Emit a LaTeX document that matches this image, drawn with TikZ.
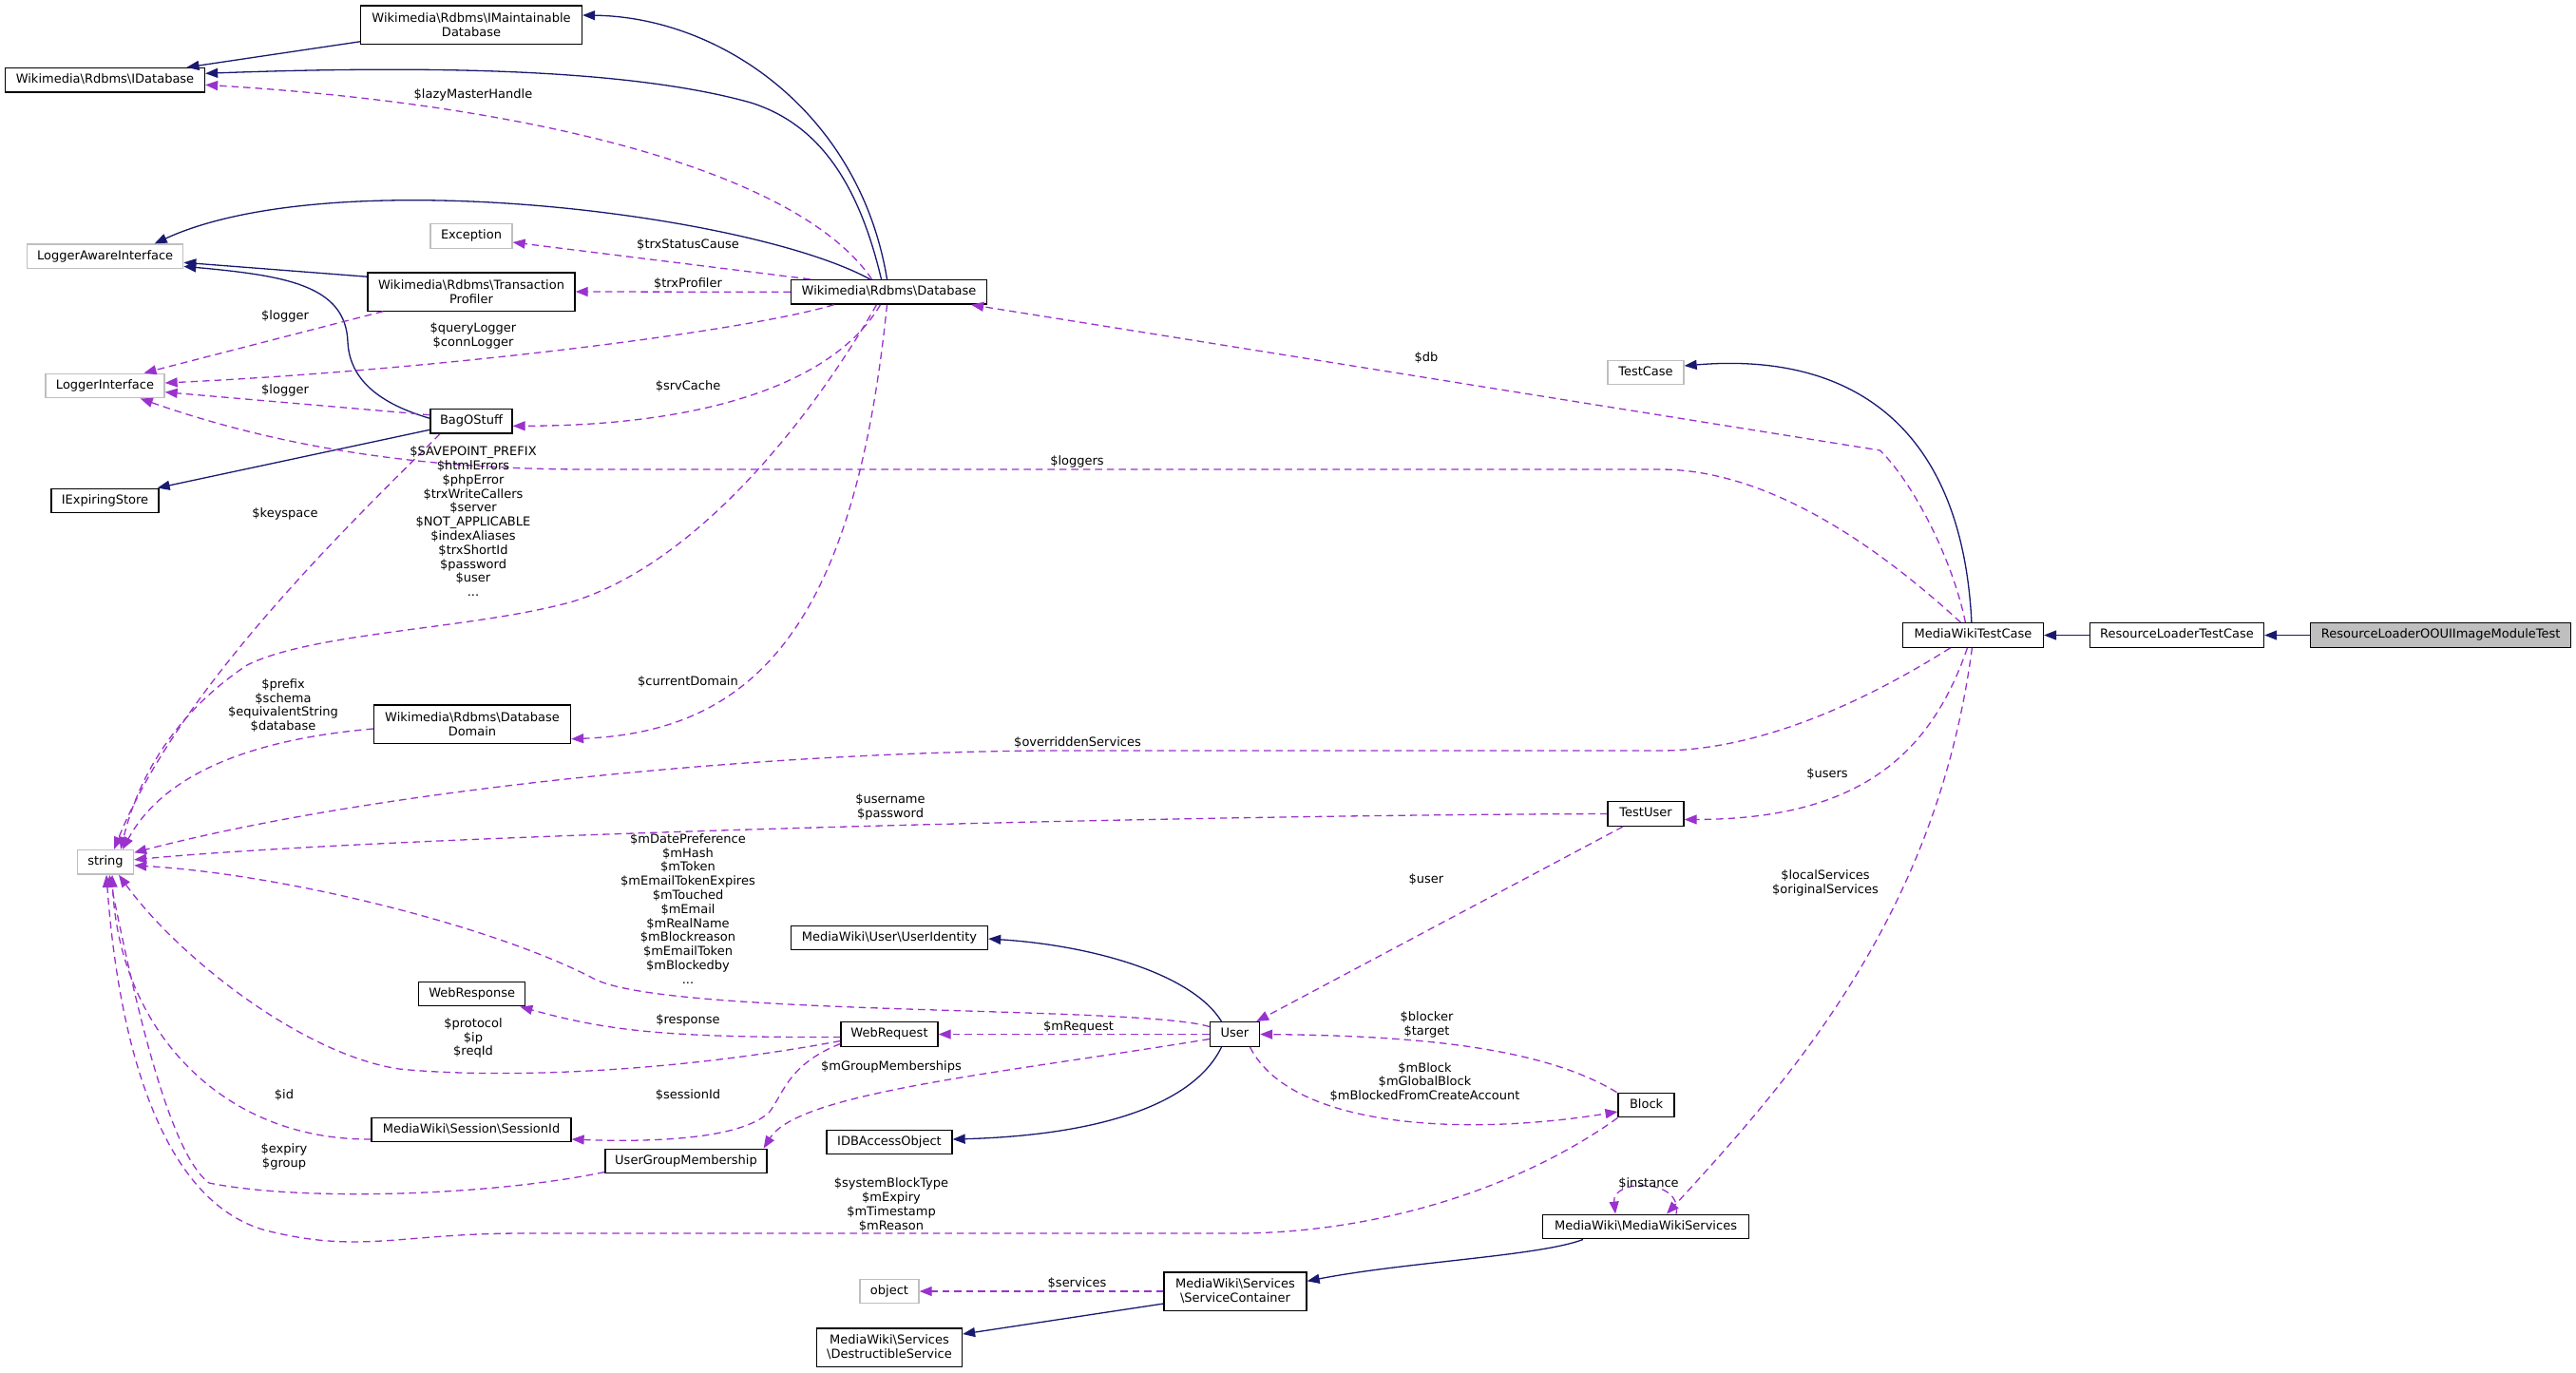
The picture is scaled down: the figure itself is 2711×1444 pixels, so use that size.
\documentclass[tikz,border=0pt]{standalone}
\usepackage{fontspec}
\setmainfont{DejaVu Sans}
\usetikzlibrary{arrows.meta}
\definecolor{inhc}{HTML}{191970}
\definecolor{usec}{HTML}{9A32CD}
\definecolor{grayb}{HTML}{BFBFBF}
\newcommand{\bsl}{\textbackslash}
\begin{document}
\begin{tikzpicture}[x=1pt,y=-1pt,
  every node/.style={font=\fontsize{13}{14.8}\selectfont},
  box/.style={draw=black, line width=1.3pt, fill=white, inner sep=0pt, minimum height=25.6pt, text height=9.4pt, text depth=2.6pt},
  box2/.style={draw=black, line width=1.3pt, fill=white, inner sep=0pt, minimum height=40.3pt, align=center},
  gbox/.style={box, draw=grayb},
  lbl/.style={inner sep=0pt, align=center, text=black},
  inh/.style={draw=inhc, line width=1.3pt, -{Triangle[length=13pt,width=10pt]}},
  use/.style={draw=usec, line width=1.3pt, dash pattern=on 7.5pt off 5pt, -{Triangle[length=13pt,width=10pt]}},
]
\useasboundingbox (0,0) rectangle (2711,1444);

% ---------- nodes ----------
\node[box2, minimum width=233pt] (imdb) at (496,26) {Wikimedia\bsl Rdbms\bsl IMaintainable\\Database};
\node[box, minimum width=210pt] (idb) at (110.5,84.3) {Wikimedia\bsl Rdbms\bsl IDatabase};
\node[gbox, minimum width=164pt] (lai) at (110.7,269.8) {LoggerAwareInterface};
\node[gbox, minimum width=86pt] (exc) at (496,248.5) {Exception};
\node[box2, minimum width=218pt] (tp) at (496,307) {Wikimedia\bsl Rdbms\bsl Transaction\\Profiler};
\node[box, minimum width=206pt] (db) at (935.5,307.3) {Wikimedia\bsl Rdbms\bsl Database};
\node[gbox, minimum width=125pt] (li) at (110.5,406) {LoggerInterface};
\node[box, minimum width=86pt] (bag) at (496,443.3) {BagOStuff};
\node[box, minimum width=113pt] (ies) at (110.5,527) {IExpiringStore};
\node[box2, minimum width=207pt] (dd) at (497,762) {Wikimedia\bsl Rdbms\bsl Database\\Domain};
\node[gbox, minimum width=59pt] (str) at (111,907.3) {string};
\node[gbox, minimum width=80pt] (tc) at (1732,392) {TestCase};
\node[box, minimum width=148pt] (mwtc) at (2076.4,668.5) {MediaWikiTestCase};
\node[box, minimum width=183pt] (rltc) at (2291,668.5) {ResourceLoaderTestCase};
\node[box, fill=grayb, minimum width=274pt] (rlo) at (2568.7,668.5) {ResourceLoaderOOUIImageModuleTest};
\node[box, minimum width=80pt] (tu) at (1732,856.5) {TestUser};
\node[box, minimum width=207pt] (uid) at (936,987) {MediaWiki\bsl User\bsl UserIdentity};
\node[box, minimum width=112pt] (wresp) at (496.7,1046) {WebResponse};
\node[box, minimum width=102pt] (wreq) at (936,1088.5) {WebRequest};
\node[box, minimum width=52pt] (user) at (1299.5,1088.5) {User};
\node[box, minimum width=210pt] (sid) at (496,1189) {MediaWiki\bsl Session\bsl SessionId};
\node[box, minimum width=132pt] (idbao) at (936,1202) {IDBAccessObject};
\node[box, minimum width=170pt] (ugm) at (722,1222) {UserGroupMembership};
\node[box, minimum width=59pt] (block) at (1732.6,1163) {Block};
\node[box, minimum width=217pt] (mws) at (1732,1291) {MediaWiki\bsl MediaWikiServices};
\node[gbox, minimum width=62pt] (obj) at (936,1359) {object};
\node[box2, minimum width=150pt] (sc) at (1300,1359) {MediaWiki\bsl Services\\\bsl ServiceContainer};
\node[box2, minimum width=153pt] (ds) at (936,1418) {MediaWiki\bsl Services\\\bsl DestructibleService};

% ---------- inheritance ----------
\draw[inh] ([yshift=3pt]imdb.south west) -- ([xshift=86pt]idb.north);
\draw[inh] ([xshift=-2pt]db.north) .. controls (905,120) and (760,18) .. ([yshift=10pt]imdb.east);
\draw[inh] ([xshift=-8pt]db.north) .. controls (903,190) and (860,130) .. (790,108)
           .. controls (690,80) and (520,66) .. ([yshift=7pt]idb.east);
\draw[inh] ([xshift=-20pt]db.north) .. controls (790,225) and (350,170) .. ([xshift=52pt]lai.north);
\draw[inh] ([yshift=-5pt]tp.north west) -- ([yshift=-6.5pt]lai.east);
\draw[inh] ([yshift=3pt]bag.west) .. controls (400,425) and (368,400) .. (366,360)
           .. controls (364,300) and (300,290) .. ([yshift=-10.5pt]lai.east);
\draw[inh] ([yshift=-9pt]bag.west) -- ([xshift=-2pt]ies.north east);
\draw[inh] ([xshift=-1.5pt]mwtc.north) .. controls (2065,450) and (1950,370) .. ([yshift=7pt]tc.east);
\draw[inh] (rltc.west) -- (mwtc.east);
\draw[inh] (rlo.west) -- (rltc.east);
\draw[inh] ([xshift=-14pt]user.north) .. controls (1255,1025) and (1150,995) .. ([yshift=-1pt]uid.east);
\draw[inh] ([xshift=-14pt]user.south) .. controls (1255,1165) and (1150,1195) .. ([yshift=3pt]idbao.east);
\draw[inh] ([xshift=-66pt]mws.south) .. controls (1620,1322) and (1480,1328) .. ([yshift=10.7pt]sc.east);
\draw[inh] ([yshift=-13pt]sc.west) -- ([yshift=14pt]ds.east);

% ---------- usage ----------
\draw[use] ([xshift=-18pt]db.north) .. controls (840,180) and (560,110) .. ([yshift=-5pt]idb.east);
\draw[use] ([xshift=-83pt]db.north) -- ([yshift=-6.5pt]exc.east);
\draw[use] (db.west) -- (tp.east);
\draw[use] ([xshift=-58pt]db.south) .. controls (780,350) and (450,390) .. ([yshift=3pt]li.east);
\draw[use] ([xshift=-93pt]tp.south) -- ([xshift=41pt]li.north);
\draw[use] ([yshift=6.6pt]bag.west) -- ([yshift=-6.7pt]li.east);
\draw[use] ([xshift=-9pt]db.south) .. controls (880,400) and (750,448) .. ([yshift=-5pt]bag.east);
\draw[use] ([xshift=-13pt]db.south) .. controls (860,430) and (740,590) .. (603,633)
           .. controls (500,662) and (330,665) .. (260,700)
           .. controls (200,740) and (150,800) .. ([xshift=16pt]str.north);
\draw[use] ([xshift=-33pt]bag.south) .. controls (380,540) and (190,720) .. ([xshift=9pt]str.north);
\draw[use] ([yshift=-5pt]dd.west) .. controls (300,775) and (180,800) .. ([xshift=18pt]str.north);
\draw[use] ([xshift=-2pt]db.south) .. controls (900,650) and (800,770) .. ([yshift=-15.7pt]dd.east);
\draw[use] ([xshift=-8pt]mwtc.north) .. controls (2055,590) and (2015,510) .. (1978.6,474)
           -- ([xshift=-17pt]db.south east);
\draw[use] ([xshift=-13pt]mwtc.north) .. controls (1960,560) and (1850,494) .. (1747,494)
           -- (620,494) .. controls (480,494) and (320,480) .. ([xshift=-26pt]li.south east);
\draw[use] ([xshift=-24pt]mwtc.south) .. controls (1960,740) and (1850,790) .. (1747,790)
           -- (1100,790) .. controls (800,792) and (400,830) .. ([yshift=10pt]str.east);
\draw[use] ([xshift=-6pt]mwtc.south) .. controls (2030,800) and (1950,862) .. ([yshift=-6pt]tu.east);
\draw[use] ([xshift=-1pt]mwtc.south) .. controls (2040,950) and (1900,1120) .. ([xshift=22pt]mws.north);
\draw[use] (tu.west) .. controls (1200,858) and (400,880) .. ([yshift=2.5pt]str.east);
\draw[use] ([xshift=-24pt]tu.south) -- ([xshift=-4pt]user.north east);
\draw[use] ([yshift=8pt]user.west) .. controls (1200,1058) and (700,1070) .. (625,1030)
           .. controls (520,975) and (300,920) .. ([yshift=-3.5pt]str.east);
\draw[use] (user.west) -- (wreq.east);
\draw[use] ([yshift=-5pt]user.west) .. controls (1050,1130) and (840,1150) .. ([xshift=-4pt]ugm.north east);
\draw[use] ([xshift=-1pt]block.north west) .. controls (1620,1100) and (1480,1090) .. (user.east);
\draw[use] ([xshift=16pt]user.south) .. controls (1360,1190) and (1550,1195) .. ([yshift=-7pt]block.west);
\draw[use] (block.south west) .. controls (1600,1250) and (1450,1298) .. (1300,1298)
           -- (550,1298) .. controls (420,1298) and (380,1320) .. (280,1295)
           .. controls (170,1265) and (125,1100) .. ([xshift=1pt]str.south);
\draw[use] ([yshift=2pt]ugm.south west) .. controls (520,1258) and (320,1265) .. (220,1245)
           .. controls (180,1215) and (145,1070) .. ([xshift=4pt]str.south);
\draw[use] ([yshift=-10pt]sid.west) .. controls (230,1200) and (125,1080) .. ([xshift=7pt]str.south);
\draw[use] ([yshift=-7pt]wreq.west) .. controls (700,1130) and (520,1135) .. (420,1125)
           .. controls (320,1110) and (190,1010) .. ([xshift=14pt]str.south);
\draw[use] ([yshift=-3pt]wreq.west) .. controls (700,1092) and (640,1085) .. ([xshift=-6pt]wresp.south east);
\draw[use] ([yshift=-10pt]wreq.west) .. controls (830,1120) and (825,1150) .. (810,1170)
           .. controls (780,1200) and (680,1202) .. ([yshift=-10pt]sid.east);
\draw[use] ([xshift=32pt]mws.north) .. controls (1772,1240) and (1696,1240) .. ([xshift=-32pt]mws.north);
\draw[use] (sc.west) -- (obj.east);

% ---------- labels ----------
\node[lbl] (l1) at (498,100) {\$lazyMasterHandle};
\node[lbl] (l2) at (724,258) {\$trxStatusCause};
\node[lbl] (l3) at (724,298.7) {\$trxProfiler};
\node[lbl] (l4) at (498,353.3) {\$queryLogger\\\$connLogger};
\node[lbl] (l5) at (300,332.5) {\$logger};
\node[lbl] (l6) at (300,410.7) {\$logger};
\node[lbl] (l7) at (724,406.7) {\$srvCache};
\node[lbl] (l8) at (498,548.7) {\$SAVEPOINT\_PREFIX\\\$htmlErrors\\\$phpError\\\$trxWriteCallers\\\$server\\\$NOT\_APPLICABLE\\\$indexAliases\\\$trxShortId\\\$password\\\$user\\...};
\node[lbl] (l9) at (300,540.7) {\$keyspace};
\node[lbl] (l10) at (298,742.5) {\$prefix\\\$schema\\\$equivalentString\\\$database};
\node[lbl] (l11) at (724,717.7) {\$currentDomain};
\node[lbl] (l12) at (1501,376.7) {\$db};
\node[lbl] (l13) at (1133.5,485.7) {\$loggers};
\node[lbl] (l14) at (1134,781.6) {\$overriddenServices};
\node[lbl] (l15) at (1923,815) {\$users};
\node[lbl] (l16) at (937,849.2) {\$username\\\$password};
\node[lbl] (l17) at (1921,929.3) {\$localServices\\\$originalServices};
\node[lbl] (l18) at (1501,925) {\$user};
\node[lbl] (l19) at (724,956.4) {\$mDatePreference\\\$mHash\\\$mToken\\\$mEmailTokenExpires\\\$mTouched\\\$mEmail\\\$mRealName\\\$mBlockreason\\\$mEmailToken\\\$mBlockedby\\...};
\node[lbl] (l20) at (724,1073.6) {\$response};
\node[lbl] (l21) at (498,1092.4) {\$protocol\\\$ip\\\$reqId};
\node[lbl] (l22) at (1135,1080.7) {\$mRequest};
\node[lbl] (l23) at (1501.5,1078) {\$blocker\\\$target};
\node[lbl] (l24) at (1499.5,1138.8) {\$mBlock\\\$mGlobalBlock\\\$mBlockedFromCreateAccount};
\node[lbl] (l25) at (938,1122.6) {\$mGroupMemberships};
\node[lbl] (l26) at (724,1152.8) {\$sessionId};
\node[lbl] (l27) at (299,1152.8) {\$id};
\node[lbl] (l28) at (299,1217.7) {\$expiry\\\$group};
\node[lbl] (l29) at (938,1268) {\$systemBlockType\\\$mExpiry\\\$mTimestamp\\\$mReason};
\node[lbl] (l30) at (1735,1245.7) {\$instance};
\node[lbl] (l31) at (1133.5,1350.3) {\$services};
\end{tikzpicture}
\end{document}
